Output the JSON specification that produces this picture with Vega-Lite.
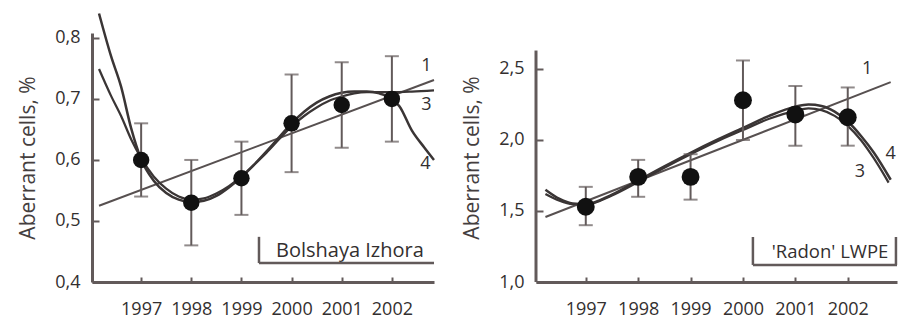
{
  "$schema": "https://vega.github.io/schema/vega-lite/v6.json",
  "background": "white",
  "padding": {"left": 17, "top": 8, "right": 0, "bottom": 0},
  "bounds": "flush",
  "spacing": 102,
  "config": {
    "view": {"stroke": null},
    "font": "Open Sans",
    "axis": {
      "domain": true,
      "domainColor": "#625a5a",
      "domainWidth": 3,
      "ticks": true,
      "tickColor": "#625a5a",
      "tickWidth": 2,
      "grid": false,
      "labelFont": "Open Sans",
      "labelFontSize": 18,
      "labelColor": "#332f2f",
      "titleFont": "Open Sans",
      "titleFontSize": 21,
      "titleFontWeight": "normal",
      "titleColor": "#443e3e"
    },
    "axisX": {"tickSize": -5, "labelPadding": 23, "labelAngle": 0},
    "axisY": {"tickSize": -7, "labelPadding": 19, "titlePadding": 16}
  },
  "datasets": {
    "izhora_points": [
      {"year": 1997, "value": 0.60, "lo": 0.54, "hi": 0.66},
      {"year": 1998, "value": 0.53, "lo": 0.46, "hi": 0.60},
      {"year": 1999, "value": 0.57, "lo": 0.51, "hi": 0.63},
      {"year": 2000, "value": 0.66, "lo": 0.58, "hi": 0.74},
      {"year": 2001, "value": 0.69, "lo": 0.62, "hi": 0.76},
      {"year": 2002, "value": 0.70, "lo": 0.63, "hi": 0.77}
    ],
    "izhora_curves": [
      {"curve": "1", "year": 1996.16, "value": 0.525},
      {"curve": "1", "year": 2002.84, "value": 0.731},
      {"curve": "3", "year": 1996.16, "value": 0.749},
      {"curve": "3", "year": 1996.4, "value": 0.705},
      {"curve": "3", "year": 1996.6, "value": 0.672},
      {"curve": "3", "year": 1996.8, "value": 0.634},
      {"curve": "3", "year": 1997, "value": 0.603},
      {"curve": "3", "year": 1997.25, "value": 0.573},
      {"curve": "3", "year": 1997.5, "value": 0.553},
      {"curve": "3", "year": 1997.75, "value": 0.54},
      {"curve": "3", "year": 1998, "value": 0.535},
      {"curve": "3", "year": 1998.25, "value": 0.537},
      {"curve": "3", "year": 1998.5, "value": 0.545},
      {"curve": "3", "year": 1998.75, "value": 0.557},
      {"curve": "3", "year": 1999, "value": 0.573},
      {"curve": "3", "year": 1999.25, "value": 0.592},
      {"curve": "3", "year": 1999.5, "value": 0.612},
      {"curve": "3", "year": 1999.75, "value": 0.634},
      {"curve": "3", "year": 2000, "value": 0.655},
      {"curve": "3", "year": 2000.25, "value": 0.672},
      {"curve": "3", "year": 2000.5, "value": 0.686},
      {"curve": "3", "year": 2000.75, "value": 0.697},
      {"curve": "3", "year": 2001, "value": 0.704},
      {"curve": "3", "year": 2001.25, "value": 0.709},
      {"curve": "3", "year": 2001.5, "value": 0.711},
      {"curve": "3", "year": 2002, "value": 0.711},
      {"curve": "3", "year": 2002.4, "value": 0.712},
      {"curve": "3", "year": 2002.84, "value": 0.714},
      {"curve": "4", "year": 1996.16, "value": 0.84},
      {"curve": "4", "year": 1996.4, "value": 0.77},
      {"curve": "4", "year": 1996.6, "value": 0.72},
      {"curve": "4", "year": 1996.8, "value": 0.652},
      {"curve": "4", "year": 1997, "value": 0.601},
      {"curve": "4", "year": 1997.25, "value": 0.566},
      {"curve": "4", "year": 1997.5, "value": 0.546},
      {"curve": "4", "year": 1997.75, "value": 0.535},
      {"curve": "4", "year": 1998, "value": 0.531},
      {"curve": "4", "year": 1998.25, "value": 0.533},
      {"curve": "4", "year": 1998.5, "value": 0.541},
      {"curve": "4", "year": 1998.75, "value": 0.555},
      {"curve": "4", "year": 1999, "value": 0.572},
      {"curve": "4", "year": 1999.25, "value": 0.592},
      {"curve": "4", "year": 1999.5, "value": 0.614},
      {"curve": "4", "year": 1999.75, "value": 0.637},
      {"curve": "4", "year": 2000, "value": 0.66},
      {"curve": "4", "year": 2000.25, "value": 0.679},
      {"curve": "4", "year": 2000.5, "value": 0.694},
      {"curve": "4", "year": 2000.75, "value": 0.704},
      {"curve": "4", "year": 2001, "value": 0.71},
      {"curve": "4", "year": 2001.25, "value": 0.712},
      {"curve": "4", "year": 2001.5, "value": 0.712},
      {"curve": "4", "year": 2001.75, "value": 0.709},
      {"curve": "4", "year": 2002, "value": 0.70},
      {"curve": "4", "year": 2002.15, "value": 0.688},
      {"curve": "4", "year": 2002.4, "value": 0.648},
      {"curve": "4", "year": 2002.65, "value": 0.62},
      {"curve": "4", "year": 2002.84, "value": 0.60}
    ],
    "izhora_labels": [
      {"label": "1", "year": 2002.69, "value": 0.754},
      {"label": "3", "year": 2002.69, "value": 0.69},
      {"label": "4", "year": 2002.67, "value": 0.593}
    ],
    "radon_points": [
      {"year": 1997, "value": 1.53, "lo": 1.40, "hi": 1.67},
      {"year": 1998, "value": 1.74, "lo": 1.60, "hi": 1.86},
      {"year": 1999, "value": 1.74, "lo": 1.58, "hi": 1.90},
      {"year": 2000, "value": 2.28, "lo": 2.00, "hi": 2.56},
      {"year": 2001, "value": 2.18, "lo": 1.96, "hi": 2.38},
      {"year": 2002, "value": 2.16, "lo": 1.96, "hi": 2.37}
    ],
    "radon_curves": [
      {"curve": "1", "year": 1996.23, "value": 1.458},
      {"curve": "1", "year": 2002.82, "value": 2.408},
      {"curve": "3", "year": 1996.23, "value": 1.62},
      {"curve": "3", "year": 1996.5, "value": 1.572},
      {"curve": "3", "year": 1996.75, "value": 1.548},
      {"curve": "3", "year": 1997, "value": 1.545},
      {"curve": "3", "year": 1997.5, "value": 1.61},
      {"curve": "3", "year": 1998, "value": 1.705},
      {"curve": "3", "year": 1998.5, "value": 1.805},
      {"curve": "3", "year": 1999, "value": 1.9},
      {"curve": "3", "year": 1999.5, "value": 1.99},
      {"curve": "3", "year": 2000, "value": 2.07},
      {"curve": "3", "year": 2000.5, "value": 2.15},
      {"curve": "3", "year": 2001, "value": 2.205},
      {"curve": "3", "year": 2001.25, "value": 2.222},
      {"curve": "3", "year": 2001.5, "value": 2.21},
      {"curve": "3", "year": 2001.75, "value": 2.17},
      {"curve": "3", "year": 2002, "value": 2.1},
      {"curve": "3", "year": 2002.25, "value": 2.0},
      {"curve": "3", "year": 2002.5, "value": 1.87},
      {"curve": "3", "year": 2002.78, "value": 1.70},
      {"curve": "4", "year": 1996.23, "value": 1.65},
      {"curve": "4", "year": 1996.5, "value": 1.585},
      {"curve": "4", "year": 1996.75, "value": 1.553},
      {"curve": "4", "year": 1997, "value": 1.548},
      {"curve": "4", "year": 1997.5, "value": 1.615},
      {"curve": "4", "year": 1998, "value": 1.715},
      {"curve": "4", "year": 1998.5, "value": 1.815},
      {"curve": "4", "year": 1999, "value": 1.91},
      {"curve": "4", "year": 1999.5, "value": 2.0},
      {"curve": "4", "year": 2000, "value": 2.085},
      {"curve": "4", "year": 2000.5, "value": 2.17},
      {"curve": "4", "year": 2001, "value": 2.235},
      {"curve": "4", "year": 2001.25, "value": 2.25},
      {"curve": "4", "year": 2001.5, "value": 2.24},
      {"curve": "4", "year": 2001.75, "value": 2.2},
      {"curve": "4", "year": 2002, "value": 2.13},
      {"curve": "4", "year": 2002.25, "value": 2.03},
      {"curve": "4", "year": 2002.5, "value": 1.91},
      {"curve": "4", "year": 2002.82, "value": 1.72}
    ],
    "radon_labels": [
      {"label": "1", "year": 2002.37, "value": 2.50},
      {"label": "4", "year": 2002.82, "value": 1.90},
      {"label": "3", "year": 2002.23, "value": 1.775}
    ]
  },
  "hconcat": [
    {
      "width": 342,
      "height": 249,
      "layer": [
        {
          "data": {"name": "izhora_curves"},
          "mark": {"type": "line", "interpolate": "monotone"},
          "encoding": {
            "x": {"field": "year", "type": "quantitative", "title": null,
                  "scale": {"domain": [1996.02, 2002.84], "nice": false, "zero": false},
                  "axis": {"values": [1997, 1998, 1999, 2000, 2001, 2002], "format": "d"}},
            "y": {"field": "value", "type": "quantitative", "title": "Aberrant cells, %",
                  "scale": {"domain": [0.4, 0.808], "nice": false, "zero": false},
                  "axis": {"values": [0.4, 0.5, 0.6, 0.7, 0.8], "labelExpr": "replace(format(datum.value, '.1f'), '.', ',')"}},
            "detail": {"field": "curve"},
            "stroke": {"field": "curve", "type": "nominal", "legend": null,
                       "scale": {"domain": ["1", "3", "4"], "range": ["#575050", "#3a3535", "#3a3535"]}},
            "strokeWidth": {"field": "curve", "type": "nominal", "legend": null,
                            "scale": {"domain": ["1", "3", "4"], "range": [2, 2.5, 2.5]}}
          }
        },
        {
          "data": {"name": "izhora_points"},
          "mark": {"type": "errorbar", "ticks": true, "size": 14, "thickness": 2, "color": "#625a5a"},
          "encoding": {
            "x": {"field": "year", "type": "quantitative", "title": null},
            "y": {"field": "lo", "type": "quantitative", "title": "Aberrant cells, %"},
            "y2": {"field": "hi"}
          }
        },
        {
          "data": {"name": "izhora_points"},
          "mark": {"type": "circle", "size": 270, "color": "#111111", "opacity": 1},
          "encoding": {
            "x": {"field": "year", "type": "quantitative", "title": null},
            "y": {"field": "value", "type": "quantitative", "title": "Aberrant cells, %"}
          }
        },
        {
          "data": {"name": "izhora_labels"},
          "mark": {"type": "text", "fontSize": 18, "color": "#332f2f", "align": "center", "baseline": "middle"},
          "encoding": {
            "x": {"field": "year", "type": "quantitative", "title": null},
            "y": {"field": "value", "type": "quantitative", "title": "Aberrant cells, %"},
            "text": {"field": "label"}
          }
        },
        {
          "data": {"values": [{}]},
          "mark": {"type": "text", "fontSize": 20, "color": "#332f2f", "align": "left", "baseline": "middle"},
          "encoding": {
            "x": {"datum": 1999.69, "type": "quantitative"},
            "y": {"datum": 0.451, "type": "quantitative"},
            "text": {"value": "Bolshaya Izhora"}
          }
        },
        {
          "data": {"values": [{}]},
          "mark": {"type": "rule", "strokeWidth": 2.5, "color": "#625a5a"},
          "encoding": {
            "x": {"datum": 1999.35, "type": "quantitative"},
            "y": {"datum": 0.474, "type": "quantitative"},
            "y2": {"datum": 0.431}
          }
        },
        {
          "data": {"values": [{}]},
          "mark": {"type": "rule", "strokeWidth": 2.5, "color": "#625a5a"},
          "encoding": {
            "x": {"datum": 1999.35, "type": "quantitative"},
            "x2": {"datum": 2002.84},
            "y": {"datum": 0.431, "type": "quantitative"}
          }
        }
      ]
    },
    {
      "width": 361,
      "height": 249,
      "layer": [
        {
          "data": {"name": "radon_curves"},
          "mark": {"type": "line", "interpolate": "monotone"},
          "encoding": {
            "x": {"field": "year", "type": "quantitative", "title": null,
                  "scale": {"domain": [1996.05, 2002.94], "nice": false, "zero": false},
                  "axis": {"values": [1997, 1998, 1999, 2000, 2001, 2002], "format": "d"}},
            "y": {"field": "value", "type": "quantitative", "title": "Aberrant cells, %",
                  "scale": {"domain": [1.0, 2.7535], "nice": false, "zero": false},
                  "axis": {"values": [1.0, 1.5, 2.0, 2.5], "domain": false, "labelExpr": "replace(format(datum.value, '.1f'), '.', ',')"}},
            "detail": {"field": "curve"},
            "stroke": {"field": "curve", "type": "nominal", "legend": null,
                       "scale": {"domain": ["1", "3", "4"], "range": ["#575050", "#3a3535", "#3a3535"]}},
            "strokeWidth": {"field": "curve", "type": "nominal", "legend": null,
                            "scale": {"domain": ["1", "3", "4"], "range": [2, 2.5, 2.5]}}
          }
        },
        {
          "data": {"values": [{}]},
          "mark": {"type": "rule", "strokeWidth": 3, "color": "#625a5a"},
          "encoding": {
            "x": {"datum": 1996.05, "type": "quantitative"},
            "y": {"datum": 1.0, "type": "quantitative"},
            "y2": {"datum": 2.63}
          }
        },
        {
          "data": {"name": "radon_points"},
          "mark": {"type": "errorbar", "ticks": true, "size": 14, "thickness": 2, "color": "#625a5a"},
          "encoding": {
            "x": {"field": "year", "type": "quantitative", "title": null},
            "y": {"field": "lo", "type": "quantitative", "title": "Aberrant cells, %"},
            "y2": {"field": "hi"}
          }
        },
        {
          "data": {"name": "radon_points"},
          "mark": {"type": "circle", "size": 320, "color": "#111111", "opacity": 1},
          "encoding": {
            "x": {"field": "year", "type": "quantitative", "title": null},
            "y": {"field": "value", "type": "quantitative", "title": "Aberrant cells, %"}
          }
        },
        {
          "data": {"name": "radon_labels"},
          "mark": {"type": "text", "fontSize": 18, "color": "#332f2f", "align": "center", "baseline": "middle"},
          "encoding": {
            "x": {"field": "year", "type": "quantitative", "title": null},
            "y": {"field": "value", "type": "quantitative", "title": "Aberrant cells, %"},
            "text": {"field": "label"}
          }
        },
        {
          "data": {"values": [{}]},
          "mark": {"type": "text", "fontSize": 18.5, "color": "#332f2f", "align": "left", "baseline": "middle"},
          "encoding": {
            "x": {"datum": 2000.55, "type": "quantitative"},
            "y": {"datum": 1.211, "type": "quantitative"},
            "text": {"value": "'Radon' LWPE"}
          }
        },
        {
          "data": {"values": [{}]},
          "mark": {"type": "rule", "strokeWidth": 2.5, "color": "#625a5a"},
          "encoding": {
            "x": {"datum": 2000.19, "type": "quantitative"},
            "y": {"datum": 1.317, "type": "quantitative"},
            "y2": {"datum": 1.12}
          }
        },
        {
          "data": {"values": [{}]},
          "mark": {"type": "rule", "strokeWidth": 2.5, "color": "#625a5a"},
          "encoding": {
            "x": {"datum": 2002.92, "type": "quantitative"},
            "y": {"datum": 1.317, "type": "quantitative"},
            "y2": {"datum": 1.12}
          }
        },
        {
          "data": {"values": [{}]},
          "mark": {"type": "rule", "strokeWidth": 2.5, "color": "#625a5a"},
          "encoding": {
            "x": {"datum": 2000.19, "type": "quantitative"},
            "x2": {"datum": 2002.94},
            "y": {"datum": 1.12, "type": "quantitative"}
          }
        }
      ]
    }
  ]
}
